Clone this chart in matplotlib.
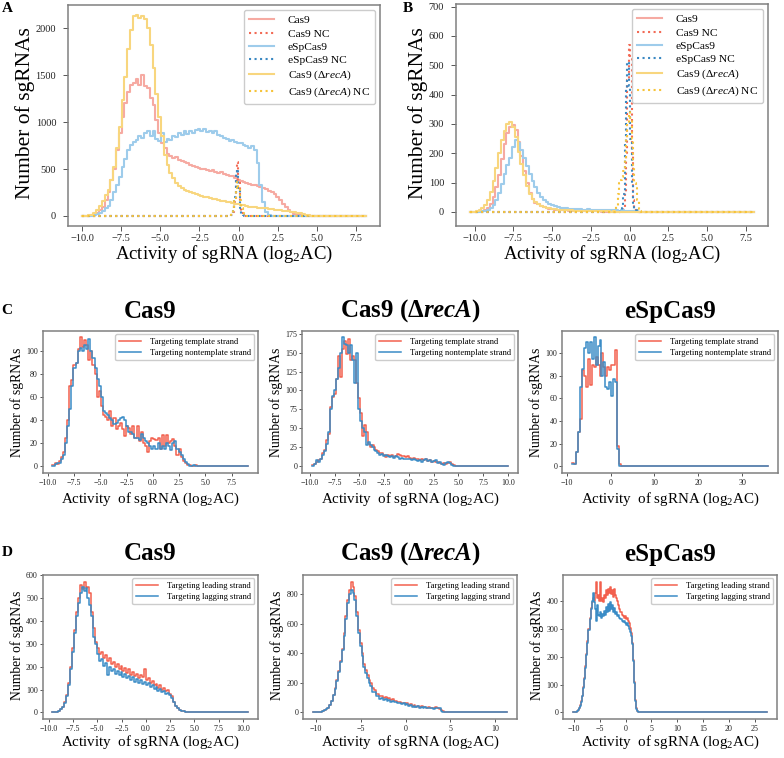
import numpy as np
import matplotlib
matplotlib.use("Agg")
import matplotlib.pyplot as plt
from matplotlib.ticker import MultipleLocator

plt.rcParams['font.family'] = ['Liberation Serif', 'DejaVu Serif']
plt.rcParams['mathtext.fontset'] = 'custom'
plt.rcParams['mathtext.rm'] = 'Liberation Serif'
plt.rcParams['mathtext.it'] = 'Liberation Serif:italic'
plt.rcParams['mathtext.bf'] = 'Liberation Serif:bold'
try:
    plt.rcParams['mathtext.bfit'] = 'Liberation Serif:italic:bold'
except KeyError:
    pass

# ---------------- DATA ----------------
# Panel A: all sgRNAs (bins of 0.18 starting at -10.0, data extends to 8.14)
a_start, a_width, a_end = -10.0, 0.18, 8.14
a_cas9 = [0, 1, 3, 8, 18, 35, 60, 100, 170, 250, 380, 500, 700, 880, 1050, 1200, 1320, 1400, 1420, 1460,
          1400, 1500, 1380, 1360, 1260, 1180, 1020, 880, 780, 720, 660, 640, 620, 630, 600, 590, 570, 560, 540, 530,
          520, 510, 500, 505, 490, 480, 485, 470, 460, 470, 450, 440, 430, 425, 400, 380, 370, 360, 350, 345,
          335, 330, 320, 310, 300, 290, 270, 250, 230, 200, 170, 130, 95, 65, 40, 25, 14, 7, 3, 1, 0]
a_espcas9 = [0, 0, 1, 3, 8, 18, 35, 55, 80, 110, 170, 250, 330, 420, 520, 610, 700, 760, 790, 810,
             850, 830, 880, 900, 850, 900, 820, 800, 880, 790, 820, 810, 850, 840, 880, 860, 900, 870, 900, 880,
             920, 930, 900, 930, 890, 910, 880, 900, 860, 850, 830, 820, 800, 810, 790, 780, 780, 760, 750, 720,
             740, 700, 560, 330, 150, 40, 10, 3, 1, 0]
a_reca = [0, 2, 6, 15, 35, 65, 110, 160, 220, 280, 380, 520, 720, 950, 1230, 1480, 1780, 1980, 2130, 2140,
          2110, 2130, 2100, 2000, 1820, 1580, 1300, 1050, 850, 650, 540, 460, 400, 350, 320, 300, 280, 265, 250, 240,
          230, 220, 212, 205, 198, 190, 185, 178, 170, 162, 158, 150, 145, 140, 132, 125, 120, 112, 108, 100,
          96, 92, 90, 88, 85, 80, 76, 72, 68, 65, 60, 56, 52, 48, 45, 40, 35, 28, 20, 12, 6, 3, 1, 0]
# negative controls (bins of 0.09 starting at -0.55)
a_nc_start, a_nc_width = -0.55, 0.09
a_cas9_nc = [2, 10, 40, 150, 430, 570, 380, 120, 30, 8, 2, 0]
a_espcas9_nc = [3, 15, 60, 200, 450, 500, 300, 90, 20, 5, 1, 0]
a_reca_nc = [10, 30, 80, 180, 300, 360, 300, 170, 80, 30, 10, 3]

# Panel B: essential-gene sgRNAs (bins of 0.18 starting at -10.28, data extends to 8.01)
b_start, b_width, b_end = -10.28, 0.18, 8.01
b_cas9 = [0, 0, 1, 2, 4, 8, 15, 28, 50, 85, 125, 180, 230, 270, 290, 296, 280, 240, 190, 140,
          100, 65, 45, 32, 26, 20, 16, 14, 11, 9, 8, 7, 6, 5, 5, 4, 4, 3, 3, 3,
          3, 2, 3, 2, 2, 2, 2, 1, 1, 1, 1, 1, 1, 1, 0]
b_espcas9 = [0, 0, 0, 1, 2, 4, 8, 14, 25, 40, 65, 95, 130, 160, 185, 220, 245, 235, 210, 185,
             155, 130, 105, 85, 65, 52, 42, 35, 28, 22, 20, 17, 15, 13, 12, 11, 10, 10, 9, 9,
             8, 8, 9, 7, 8, 7, 7, 6, 7, 6, 5, 6, 5, 4, 5, 4, 3, 3, 2, 2, 1, 1, 0]
b_reca = [0, 1, 3, 6, 12, 22, 40, 68, 105, 150, 200, 245, 275, 300, 305, 290, 255, 205, 165, 125,
          90, 62, 45, 35, 27, 21, 17, 14, 12, 10, 9, 8, 7, 6, 6, 5, 5, 4, 4, 3,
          4, 3, 3, 3, 2, 3, 2, 2, 2, 2, 1, 2, 1, 1, 1, 1, 1, 0]
b_nc_start, b_nc_width = -0.95, 0.09
b_cas9_nc = [0, 0, 0, 0, 2, 5, 15, 60, 200, 450, 570, 520, 200, 40, 8, 2, 0, 0, 0]
b_espcas9_nc = [0, 0, 0, 1, 5, 15, 60, 230, 420, 510, 430, 250, 100, 30, 10, 5, 2, 0, 0]
b_reca_nc = [5, 20, 60, 100, 110, 120, 140, 180, 250, 300, 340, 320, 250, 150, 100, 80, 40, 10, 3]

# Panel C: template vs nontemplate strand
c1_start, c1_width, c1_end = -9.55, 0.2, 9.05
c1_template = [1, 3, 2, 5, 8, 12, 25, 40, 70, 75, 88, 90, 102, 112, 104, 110, 105, 92, 100, 88,
               80, 60, 65, 52, 45, 43, 40, 48, 35, 42, 32, 35, 38, 32, 26, 35, 33, 28, 35, 25,
               35, 22, 30, 20, 18, 12, 22, 25, 24, 23, 25, 15, 27, 18, 27, 20, 22, 24, 18, 10,
               15, 8, 5, 3, 1, 1, 0, 0, 1]
c1_nontemplate = [0, 2, 3, 3, 6, 10, 20, 35, 50, 70, 85, 90, 100, 103, 100, 105, 102, 111, 100, 94,
                  85, 76, 70, 60, 48, 46, 45, 42, 40, 37, 38, 40, 42, 43, 40, 35, 30, 30, 28, 25,
                  25, 23, 28, 25, 22, 20, 18, 15, 18, 15, 20, 15, 18, 15, 20, 18, 14, 20, 22, 15,
                  12, 10, 6, 4, 2, 0, 0, 1, 0]
c2_start, c2_width, c2_end = -9.77, 0.2, 10.0
c2_template = [2, 3, 5, 8, 10, 18, 22, 35, 42, 78, 92, 95, 115, 145, 118, 155, 165, 148, 168, 140,
               145, 140, 110, 90, 70, 40, 55, 45, 30, 25, 28, 26, 22, 20, 18, 17, 15, 12, 15, 13,
               15, 12, 14, 16, 15, 14, 13, 12, 13, 11, 10, 11, 9, 10, 8, 9, 8, 10, 7, 8,
               6, 7, 5, 6, 4, 3, 4, 3, 4, 5, 3, 2, 1, 1]
c2_nontemplate = [1, 3, 8, 6, 9, 15, 20, 30, 45, 75, 93, 100, 115, 130, 150, 170, 162, 160, 150, 160,
                  140, 110, 150, 75, 60, 50, 45, 28, 32, 28, 25, 22, 20, 18, 15, 16, 14, 15, 13, 12,
                  14, 11, 13, 12, 10, 11, 10, 9, 10, 9, 8, 10, 8, 7, 8, 6, 8, 9, 7, 8,
                  6, 7, 8, 4, 5, 3, 2, 4, 5, 4, 2, 1, 1, 0]
c3_start, c3_width, c3_end = -8.8, 0.447, 35.9
c3_template = [3, 2, 13, 30, 42, 85, 80, 70, 95, 72, 90, 88, 97, 90, 80, 100, 88, 80, 88, 85,
               90, 90, 103, 18, 2]
c3_nontemplate = [2, 2, 13, 30, 70, 86, 105, 110, 100, 110, 95, 114, 90, 106, 112, 80, 92, 70, 68, 75,
                  62, 77, 75, 15, 0]

# Panel D: leading vs lagging strand
d1_start, d1_width, d1_end = -9.6, 0.2, 10.5
d1_leading = [1, 2, 4, 8, 14, 25, 45, 75, 130, 200, 280, 360, 440, 500, 555, 540, 572, 545, 550, 520,
              440, 370, 310, 280, 255, 262, 238, 252, 225, 238, 210, 222, 200, 212, 190, 205, 182, 195, 172, 188,
              165, 178, 158, 170, 150, 165, 155, 190, 140, 150, 128, 138, 118, 125, 108, 118, 100, 108, 92, 98,
              82, 70, 45, 30, 20, 12, 8, 5, 3, 2, 1]
d1_lagging = [1, 2, 4, 7, 13, 22, 42, 70, 120, 190, 265, 345, 420, 480, 520, 548, 530, 545, 500, 470,
              420, 330, 300, 255, 225, 232, 205, 215, 165, 200, 182, 190, 170, 182, 162, 178, 155, 168, 150, 160,
              140, 155, 135, 148, 128, 142, 125, 135, 120, 128, 110, 118, 102, 110, 95, 102, 88, 95, 80, 85,
              75, 62, 45, 30, 20, 12, 8, 5, 3, 2, 1]
d2_start, d2_width, d2_end = -10.3, 0.2, 11.3
d2_leading = [0, 1, 2, 3, 5, 9, 15, 22, 32, 50, 80, 120, 165, 220, 280, 350, 430, 540, 650, 760,
              830, 885, 850, 790, 680, 560, 470, 400, 330, 285, 250, 220, 200, 165, 155, 128, 124, 108, 112, 98,
              104, 90, 96, 84, 88, 76, 80, 68, 72, 61, 66, 56, 62, 50, 56, 44, 48, 40, 45, 37,
              41, 34, 38, 32, 36, 29, 33, 28, 34, 27, 26, 14, 7, 4, 2, 1]
d2_lagging = [0, 1, 2, 3, 5, 9, 14, 22, 32, 48, 78, 118, 160, 215, 275, 340, 420, 520, 630, 740,
              800, 830, 810, 760, 650, 540, 450, 380, 310, 265, 230, 200, 180, 140, 140, 112, 110, 94, 100, 86,
              92, 80, 86, 74, 79, 68, 73, 62, 67, 56, 61, 50, 56, 46, 50, 40, 44, 36, 41, 33,
              38, 31, 35, 28, 33, 27, 31, 26, 33, 28, 28, 12, 6, 3, 2, 1]
d3_start, d3_width, d3_end = -10.2, 0.2, 27.4
d3_leading = [0, 1, 2, 3, 6, 10, 16, 25, 40, 60, 90, 125, 165, 210, 255, 300, 340, 375, 395, 410,
              400, 430, 470, 410, 420, 400, 470, 400, 410, 395, 420, 410, 440, 420, 445, 430, 450, 425, 440, 415,
              445, 420, 410, 400, 385, 370, 360, 350, 345, 340, 345, 335, 340, 330, 320, 305, 285, 250, 190, 110,
              45, 15, 5, 2, 1]
d3_lagging = [0, 1, 2, 3, 5, 9, 15, 24, 38, 58, 88, 120, 160, 205, 250, 295, 335, 370, 400, 430,
              395, 370, 330, 385, 350, 345, 360, 340, 355, 345, 365, 350, 380, 360, 390, 365, 395, 370, 385, 360,
              375, 355, 360, 345, 350, 340, 335, 330, 325, 330, 320, 315, 320, 310, 300, 290, 275, 245, 185, 105,
              40, 12, 4, 1, 0]

# ---------------- STYLE ----------------
W, H = 784, 758
fig = plt.figure(figsize=(W / 100, H / 100), dpi=100)

def fx(px):
    return px / W

def fy(py):
    return 1 - py / H

def add_axes(l, t, r, b):
    return fig.add_axes([fx(l), fy(b), fx(r) - fx(l), (b - t) / H])

def steps(ax, start, width, counts, x0, x1, **kw):
    counts = np.asarray(counts, dtype=float)
    edges = start + width * np.arange(len(counts) + 1)
    x = edges
    y = np.append(counts, 0.0)
    if x0 < start:
        x = np.insert(x, 0, x0)
        y = np.insert(y, 0, 0.0)
    x = np.append(x, x1)
    y = np.append(y, 0.0)
    return ax.plot(x, y, drawstyle='steps-post', **kw)[0]

SPINE = '#808080'

def style_axes(ax, tick_fs, ypad, xpad, tlen):
    for s in ax.spines.values():
        s.set_color(SPINE)
        s.set_linewidth(1.1)
    ax.tick_params(axis='both', labelsize=tick_fs, length=tlen, width=0.7, color='#555555',
                   labelcolor='#222222')
    ax.tick_params(axis='y', pad=ypad)
    ax.tick_params(axis='x', pad=xpad)

CAS9, CAS9_NC = '#F6AAA2', '#F26A55'
ESP, ESP_NC = '#9ECCEB', '#3A88C2'
RECA, RECA_NC = '#F8D67E', '#F6C33A'
RED, BLUE = '#F2604E', '#3A8CC6'

reca_label = r'Cas9 ($\Delta\mathit{recA}$)'
reca_title = r'Cas9 ($\mathbf{\Delta}\mathbfit{recA}$)'
xlab = r'Activity of sgRNA (log$_2$AC)'
xlab_small = r'Activity  of sgRNA (log$_2$AC)'

# ---- Panels A and B ----
def top_panel(ax, start, width, end, cas9, esp, reca, nc_start, nc_width, cas9_nc, esp_nc, reca_nc):
    lw = 1.5
    steps(ax, start, width, cas9, start, end, color=CAS9, lw=lw, label='Cas9')
    steps(ax, nc_start, nc_width, cas9_nc, start, end, color=CAS9_NC, lw=lw, ls=':', label='Cas9 NC')
    steps(ax, start, width, esp, start, end, color=ESP, lw=lw, label='eSpCas9')
    steps(ax, nc_start, nc_width, esp_nc, start, end, color=ESP_NC, lw=lw, ls=':', label='eSpCas9 NC')
    steps(ax, start, width, reca, start, end, color=RECA, lw=lw, label=reca_label)
    steps(ax, nc_start, nc_width, reca_nc, start, end, color=RECA_NC, lw=lw, ls=':', label=reca_label + ' NC')
    ax.xaxis.set_major_locator(MultipleLocator(2.5))
    style_axes(ax, 7.5, 5, 2.5, 3.5)
    ax.legend(loc='upper right', fontsize=8.2, handlelength=2.2, handletextpad=1.2,
              labelspacing=0.3, borderaxespad=0.45, borderpad=0.45, framealpha=1, edgecolor='#cccccc')

axA = add_axes(68, 5, 380, 226)
top_panel(axA, a_start, a_width, a_end, a_cas9, a_espcas9, a_reca,
          a_nc_start, a_nc_width, a_cas9_nc, a_espcas9_nc, a_reca_nc)
axA.yaxis.set_major_locator(MultipleLocator(500))

axB = add_axes(456, 4, 768, 226)
top_panel(axB, b_start, b_width, b_end, b_cas9, b_espcas9, b_reca,
          b_nc_start, b_nc_width, b_cas9_nc, b_espcas9_nc, b_reca_nc)
axB.set_ylim(-48, 709)
axB.yaxis.set_major_locator(MultipleLocator(100))

for cx in (25, 418):
    fig.text(fx(cx), fy(113), 'Number of sgRNAs', rotation=90, ha='center', va='center', fontsize=15.5)
fig.text(fx(224), fy(254), xlab, ha='center', va='center', fontsize=13.5)
fig.text(fx(612), fy(254), xlab, ha='center', va='center', fontsize=13.5)

# ---- Panels C and D ----
def strand_panel(ax, start, width, end, s1, s2, lab1, lab2, xloc, yloc):
    steps(ax, start, width, s1, start, end, color=RED, lw=1.1, label=lab1)
    steps(ax, start, width, s2, start, end, color=BLUE, lw=1.1, label=lab2)
    ax.xaxis.set_major_locator(MultipleLocator(xloc))
    ax.yaxis.set_major_locator(MultipleLocator(yloc))
    style_axes(ax, 5.8, 1.5, 2.5, 2.0)
    ax.legend(loc='upper right', fontsize=6.2, handlelength=2.6, handletextpad=1.0,
              labelspacing=0.35, borderaxespad=0.4, framealpha=1, edgecolor='#cccccc')

c_cols = [(42.7, 257.7), (302.3, 517.7), (562.3, 777.7)]
d_cols = [(42.7, 257.7), (303.3, 516.7), (563.3, 776.7)]
titles = ['Cas9', reca_title, 'eSpCas9']

c_specs = [
    (c1_start, c1_width, c1_end, c1_template, c1_nontemplate, 2.5, 20),
    (c2_start, c2_width, c2_end, c2_template, c2_nontemplate, 2.5, 25),
    (c3_start, c3_width, c3_end, c3_template, c3_nontemplate, 10, 20),
]
for (l, r), spec, title in zip(c_cols, c_specs, titles):
    ax = add_axes(l, 331, r, 472.7)
    s, w, e, t1, t2, xl, yl = spec
    strand_panel(ax, s, w, e, t1, t2, 'Targeting template strand', 'Targeting nontemplate strand', xl, yl)
    fig.text(fx((l + r) / 2), fy(311), title, ha='center', va='center', fontsize=18, fontweight='bold')
    fig.text(fx(l - 26), fy(402), 'Number of sgRNAs', rotation=90, ha='center', va='center', fontsize=9.8)
    fig.text(fx((l + r) / 2), fy(499), xlab_small, ha='center', va='center', fontsize=10.8)

d_specs = [
    (d1_start, d1_width, d1_end, d1_leading, d1_lagging, 2.5, 100),
    (d2_start, d2_width, d2_end, d2_leading, d2_lagging, 5, 200),
    (d3_start, d3_width, d3_end, d3_leading, d3_lagging, 5, 100),
]
for (l, r), spec, title in zip(d_cols, d_specs, titles):
    ax = add_axes(l, 575, r, 719)
    s, w, e, t1, t2, xl, yl = spec
    strand_panel(ax, s, w, e, t1, t2, 'Targeting leading strand', 'Targeting lagging strand', xl, yl)
    fig.text(fx((l + r) / 2), fy(554), title, ha='center', va='center', fontsize=18, fontweight='bold')
    fig.text(fx(l - 26), fy(645), 'Number of sgRNAs', rotation=90, ha='center', va='center', fontsize=9.8)
    fig.text(fx((l + r) / 2), fy(742), xlab_small, ha='center', va='center', fontsize=10.8)

# panel letters
for letter, (px, py) in zip('ABCD', [(7, 8), (408, 8), (7, 310), (7, 553)]):
    fig.text(fx(px), fy(py), letter, ha='center', va='center', fontsize=11, fontweight='bold')

fig.savefig('out.png', dpi=100)
